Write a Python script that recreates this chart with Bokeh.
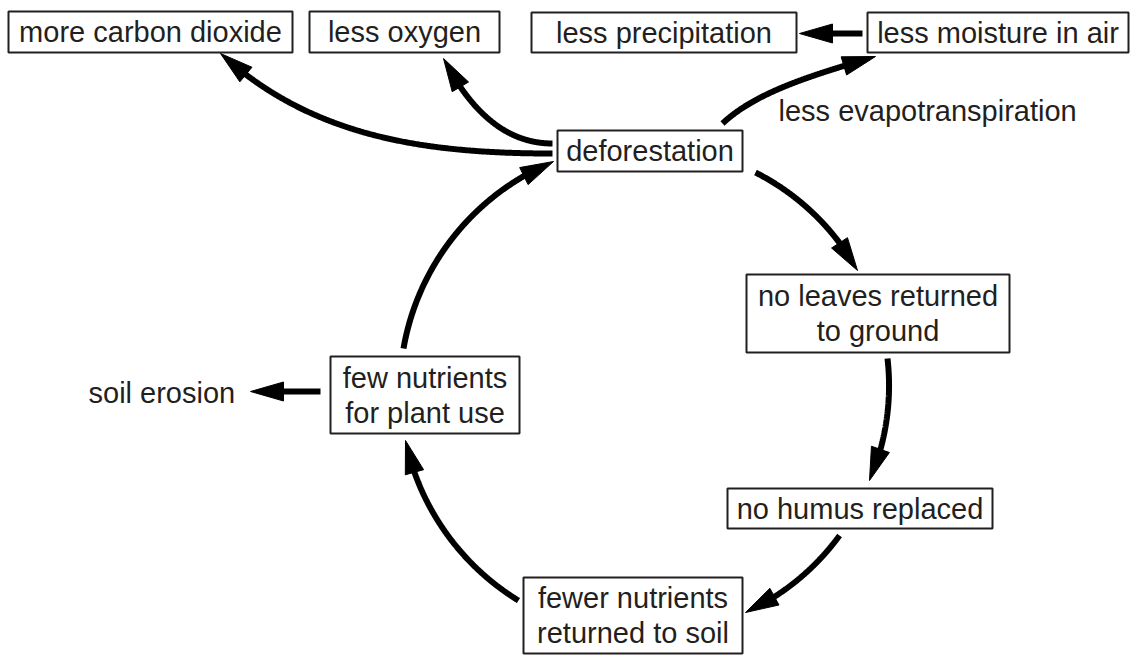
import numpy as np
from bokeh.plotting import figure
from bokeh.models import Range1d
from bokeh.core.properties import value
from bokeh.embed import file_html
from bokeh.resources import INLINE

# ---- node labels (boxed) ----
box_labels = [
    "more carbon dioxide",
    "less oxygen",
    "less precipitation",
    "less moisture in air",
    "deforestation",
    "no leaves returned\nto ground",
    "no humus replaced",
    "fewer nutrients\nreturned to soil",
    "few nutrients\nfor plant use",
]
# ---- free labels ----
free_labels = ["less evapotranspiration", "soil erosion"]

# ---- layout (page pixel coordinates) ----
box_left = [8, 309, 531, 867, 557, 746, 727, 523, 330]
box_right = [292, 499, 796, 1128, 742, 1009, 992, 742, 519]
box_top = [11, 11, 12, 12, 130, 274, 488, 577, 356]
box_bottom = [52, 52, 52, 52, 171, 352, 528, 653, 433]
free_x = [778, 88]
free_y = [110, 392]

# cycle arrows: arcs around a common centre (start point, tip point)
cycle_center = (648.0, 390.0)
cycle_starts = [(403, 348), (755, 172), (887, 358), (839, 535), (518, 600)]
cycle_tips = [(553, 161), (857, 270), (869, 480), (745, 612), (405, 440)]
# curved side arrows: cubic bezier control points
bez_arrows = [
    [(552, 153), (420, 153), (310, 135), (220, 53)],   # -> more carbon dioxide
    [(552, 143), (505, 143), (470, 110), (443, 58)],   # -> less oxygen
    [(722, 123), (755, 92), (810, 75), (875, 56)],     # -> less moisture in air
]
# straight arrows
straight_arrows = [
    [(862, 33), (799, 33)],    # moisture -> precipitation
    [(320, 391), (250, 391)],  # few nutrients -> soil erosion
]

FONT = "Liberation Sans"
FS = 29
TEXT_COLOR = "#231f20"
HEAD_LEN = 33.0
HEAD_HW = 9.5
LW = 6
BASELINE_SHIFT = 0.0  # empirically the text lands centred at y


def cubic(pts, n=300):
    p0, p1, p2, p3 = [np.array(p, dtype=float) for p in pts]
    t = np.linspace(0, 1, n)[:, None]
    return ((1 - t) ** 3) * p0 + 3 * ((1 - t) ** 2) * t * p1 + 3 * (1 - t) * t ** 2 * p2 + t ** 3 * p3


def spiral(c, s, e, n=300):
    cx, cy = c
    a0 = np.arctan2(s[1] - cy, s[0] - cx)
    a1 = np.arctan2(e[1] - cy, e[0] - cx)
    if a1 < a0:
        a1 += 2 * np.pi
    r0 = np.hypot(s[0] - cx, s[1] - cy)
    r1 = np.hypot(e[0] - cx, e[1] - cy)
    th = np.linspace(a0, a1, n)
    r = np.linspace(r0, r1, n)
    return np.column_stack([cx + r * np.cos(th), cy + r * np.sin(th)])


def straight(s, e, n=50):
    t = np.linspace(0, 1, n)[:, None]
    return (1 - t) * np.array(s, float) + t * np.array(e, float)


def split_arrow(pts):
    seg = np.hypot(np.diff(pts[:, 0]), np.diff(pts[:, 1]))
    cum_from_tip = np.concatenate([np.cumsum(seg[::-1])[::-1], [0.0]])
    tip = pts[-1]
    idx = np.where(cum_from_tip >= HEAD_LEN)[0][-1]
    base = pts[idx]
    d = (tip - base) / np.hypot(*(tip - base))
    base = tip - d * HEAD_LEN
    nrm = np.array([-d[1], d[0]])
    line = np.vstack([pts[: idx + 1], base + d * 4])
    head = np.array([tip, base + nrm * HEAD_HW, base - nrm * HEAD_HW])
    return line, head


curves = []
for s, e in zip(cycle_starts, cycle_tips):
    curves.append(spiral(cycle_center, s, e))
for b in bez_arrows:
    curves.append(cubic(b))
for s, e in straight_arrows:
    curves.append(straight(s, e))

line_xs, line_ys, head_xs, head_ys = [], [], [], []
for c in curves:
    ln, hd = split_arrow(c)
    line_xs.append(list(ln[:, 0]))
    line_ys.append(list(ln[:, 1]))
    head_xs.append(list(hd[:, 0]))
    head_ys.append(list(hd[:, 1]))

p = figure(
    width=1133, height=658,
    x_range=Range1d(0, 1133), y_range=Range1d(658, 0),
    output_backend="svg", toolbar_location=None,
    x_axis_location=None, y_axis_location=None,
    min_border=0,
)
p.grid.visible = False
p.outline_line_color = None
p.background_fill_color = "white"
p.border_fill_color = "white"

p.quad(left=box_left, right=box_right, top=box_top, bottom=box_bottom,
       fill_color="white", line_color=TEXT_COLOR, line_width=2)

p.multi_line(line_xs, line_ys, line_color="black", line_width=LW, line_cap="butt")
p.patches(head_xs, head_ys, fill_color="black", line_color="black", line_width=1)

# box text
tx, ty, tt = [], [], []
LINE_GAP = 35
for lab, l, r, t, b in zip(box_labels, box_left, box_right, box_top, box_bottom):
    lines = lab.split("\n")
    cx = (l + r) / 2
    cy = (t + b) / 2
    n = len(lines)
    for i, s in enumerate(lines):
        yc = cy + (i - (n - 1) / 2) * LINE_GAP
        tx.append(cx)
        ty.append(yc + BASELINE_SHIFT)
        tt.append(s)
p.text(x=tx, y=ty, text=tt, text_align="center", text_baseline="alphabetic",
       text_font=value(FONT), text_font_size=f"{FS}px", text_color=TEXT_COLOR)

p.text(x=free_x, y=[y + BASELINE_SHIFT for y in free_y], text=free_labels,
       text_align="left", text_baseline="alphabetic",
       text_font=value(FONT), text_font_size=f"{FS}px", text_color=TEXT_COLOR)

open("out.html", "w").write(file_html(p, INLINE))
